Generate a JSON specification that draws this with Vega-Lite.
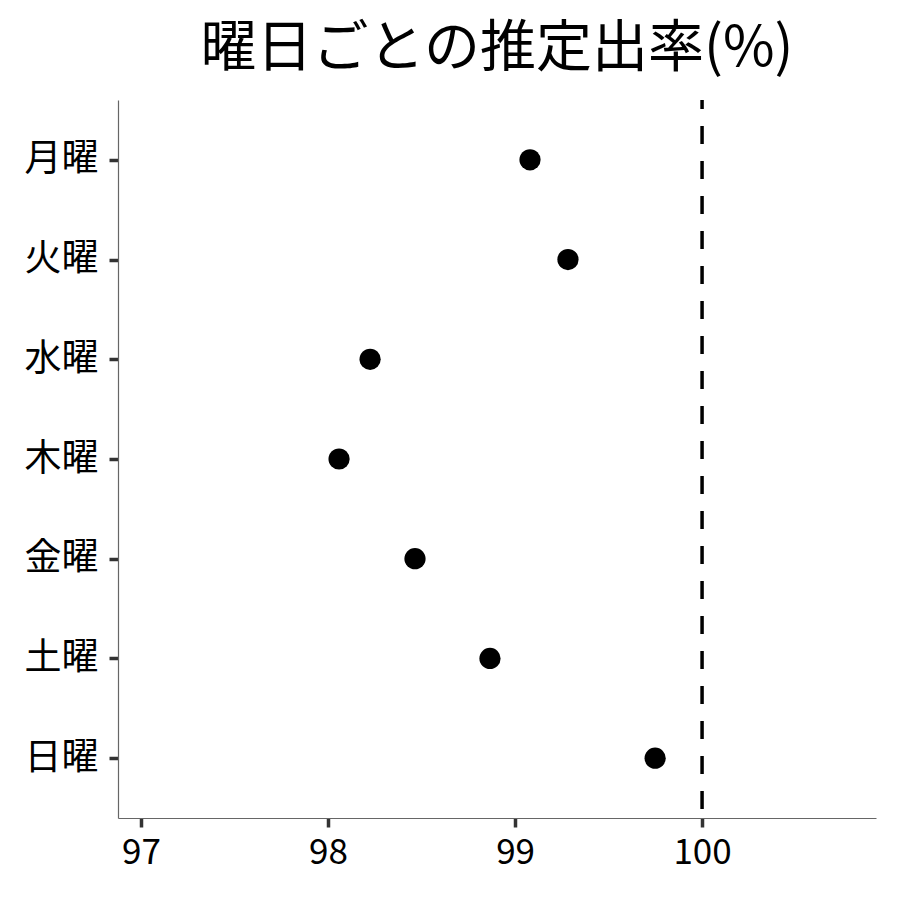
{
  "$schema": "https://vega.github.io/schema/vega-lite/v6.json",
  "autosize": "none",
  "width": 758,
  "height": 718,
  "padding": {"left": 118, "top": 100, "right": 24, "bottom": 82},
  "background": "white",
  "config": {
    "font": "Noto Sans CJK JP",
    "view": {"stroke": null}
  },
  "title": {
    "text": "曜日ごとの推定出率(%)",
    "fontSize": 56,
    "font": "Noto Sans CJK JP",
    "fontWeight": "normal",
    "color": "black",
    "anchor": "middle",
    "offset": 20
  },
  "datasets": {
    "days": [
      {"day": "月曜", "rate": 99.08},
      {"day": "火曜", "rate": 99.283},
      {"day": "水曜", "rate": 98.225},
      {"day": "木曜", "rate": 98.059},
      {"day": "金曜", "rate": 98.465},
      {"day": "土曜", "rate": 98.866},
      {"day": "日曜", "rate": 99.749}
    ],
    "ref": [{"v": 100}]
  },
  "layer": [
    {
      "data": {"name": "ref"},
      "mark": {"type": "rule", "color": "black", "strokeWidth": 3.5, "strokeDash": [18, 17], "strokeDashOffset": 9},
      "encoding": {
        "x": {"field": "v", "type": "quantitative", "scale": {"domain": [96.877, 100.93], "nice": false, "zero": false}}
      }
    },
    {
      "data": {"name": "days"},
      "mark": {"type": "circle", "color": "black", "opacity": 1, "size": 450},
      "encoding": {
        "x": {
          "field": "rate",
          "type": "quantitative",
          "scale": {"domain": [96.877, 100.93], "nice": false, "zero": false},
          "axis": {
            "title": null,
            "values": [97, 98, 99, 100],
            "format": "d",
            "grid": false,
            "domainColor": "#666666",
            "domainWidth": 1.2,
            "tickColor": "#333333",
            "tickWidth": 3.5,
            "tickSize": 9,
            "labelFontSize": 35,
            "labelColor": "black",
            "labelPadding": 8,
            "labelFont": "Noto Sans CJK JP"
          }
        },
        "y": {
          "field": "day",
          "type": "nominal",
          "sort": ["月曜", "火曜", "水曜", "木曜", "金曜", "土曜", "日曜"],
          "scale": {"type": "point", "padding": 0.6},
          "axis": {
            "title": null,
            "grid": false,
            "domainColor": "#666666",
            "domainWidth": 1.2,
            "tickColor": "#333333",
            "tickWidth": 3.5,
            "tickSize": 9,
            "labelFontSize": 37,
            "labelColor": "black",
            "labelPadding": 11,
            "labelFont": "Noto Sans CJK JP"
          }
        }
      }
    }
  ]
}
